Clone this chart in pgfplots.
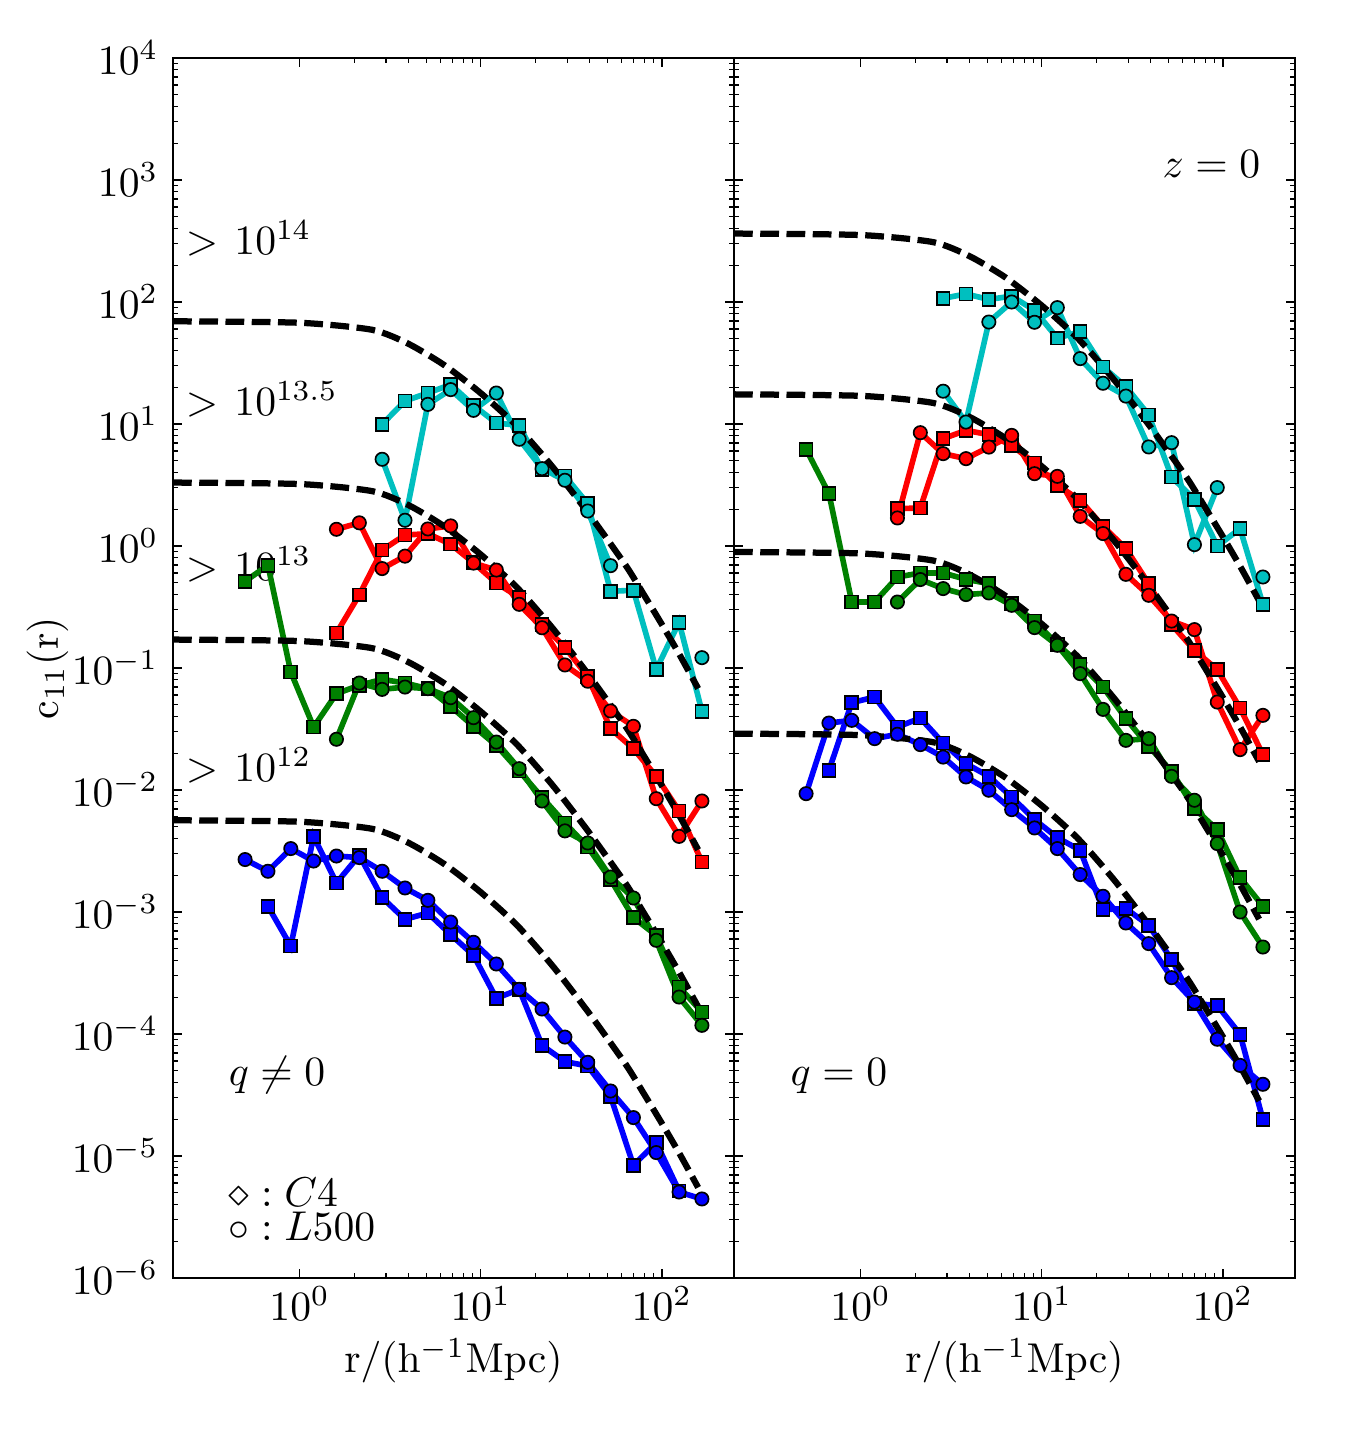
\documentclass[border=0pt]{standalone}
\usepackage{pgfplots}
\pgfplotsset{compat=1.18}
\definecolor{mcyan}{RGB}{0,191,191}
\definecolor{mgreen}{RGB}{0,128,0}
\definecolor{mblue}{RGB}{0,0,255}
\definecolor{mred}{RGB}{255,0,0}
\pgfplotsset{
 mypanel/.style={
  scale only axis, width=134.64pt, height=292.8pt,
  xmin=0.2, xmax=250, ymin=1e-6, ymax=1e4,
  ytickten={-6,...,4}, xtickten={0,1,2},
  major tick length=2.1pt, minor tick length=1.1pt,
  every tick/.style={black, line width=0.3pt},
  axis line style={line width=0.55pt},
  tick label style={font=\fontsize{10}{12}\selectfont},
  xticklabel style={yshift=1.5pt},
  label style={font=\fontsize{10}{12}\selectfont},
  xlabel={$\mathrm{r/(h^{-1}Mpc)}$},
  xlabel shift=-2.5pt,
  ylabel shift=-6pt,
 },
 sq/.style={color=#1, line width=1.35pt, mark=square*, mark size=1.55pt, mark options={solid, draw=black, line width=0.4pt, fill=#1}},
 ci/.style={color=#1, line width=1.35pt, mark=*, mark size=1.6pt, mark options={solid, draw=black, line width=0.4pt, fill=#1}},
 cim/.style={color=#1, only marks, mark=*, mark size=1.6pt, mark options={solid, draw=black, line width=0.4pt, fill=#1}},
 dsh/.style={black, line width=1.5pt, dash pattern=on 4.5pt off 1.8pt, smooth, tension=0.4, no marks},
}
\begin{document}
\begin{tikzpicture}
\useasboundingbox (0,0) rectangle (324pt,349.2pt);
% ---------------- left panel: q != 0 ----------------
\begin{loglogaxis}[mypanel, at={(41.52pt,42.48pt)}, anchor=south west, ylabel={$\mathrm{c_{11}(r)}$}]
\node[anchor=base west, inner sep=0] at (rel axis cs:0.0214,0.839) {$>\mskip2mu 10^{14}$};
\node[anchor=base west, inner sep=0] at (rel axis cs:0.0214,0.707) {$>\mskip2mu 10^{13.5}$};
\node[anchor=base west, inner sep=0] at (rel axis cs:0.0214,0.572) {$>\mskip2mu 10^{13}$};
\node[anchor=base west, inner sep=0] at (rel axis cs:0.0214,0.407) {$>\mskip2mu 10^{12}$};
\node[anchor=base west, inner sep=0] at (rel axis cs:0.098,0.158) {$q\neq 0$};
\node[anchor=north west, inner sep=0, align=left, font=\fontsize{10}{8.3}\selectfont] at (rel axis cs:0.098,0.083) {$\diamond : C4$\\$\circ : L500$};
% blue
\addplot[sq=mblue] coordinates {(0.6687,1.114e-3)(0.8937,5.260e-4)(1.195,4.169e-3)(1.597,1.730e-3)(2.136,2.917e-3)(2.855,1.312e-3)(3.817,8.710e-4)(5.104,9.817e-4)(6.823,6.531e-4)(9.120,4.416e-4)(12.19,1.963e-4)(16.30,2.323e-4)(21.79,8.072e-5)(29.14,5.943e-5)(38.95,5.470e-5)(52.08,3.083e-5)(69.62,8.395e-6)(93.07,1.288e-5)(124.4,5.164e-6)};
\addplot[ci=mblue] coordinates {(0.500,2.692e-3)(0.6687,2.158e-3)(0.8937,3.311e-3)(1.195,2.618e-3)(1.597,2.877e-3)(2.136,2.793e-3)(2.855,2.158e-3)(3.817,1.574e-3)(5.104,1.247e-3)(6.823,8.279e-4)(9.120,5.649e-4)(12.19,3.750e-4)(16.30,2.323e-4)(21.79,1.603e-4)(29.14,9.441e-5)(38.95,5.861e-5)(52.08,3.412e-5)(69.62,2.065e-5)(93.07,1.067e-5)(124.4,5.070e-6)(166.3,4.446e-6)};
% green
\addplot[sq=mgreen] coordinates {(0.500,0.5140)(0.6687,0.6950)(0.8937,0.09268)(1.195,0.03281)(1.597,0.06166)(2.136,0.07211)(2.855,0.08072)(3.817,0.07534)(5.104,0.06776)(6.823,0.04853)(9.120,0.03327)(12.19,0.02323)(16.30,0.01432)(21.79,8.710e-3)(29.14,5.370e-3)(38.95,3.412e-3)(52.08,1.845e-3)(69.62,8.995e-4)(93.07,6.442e-4)(124.4,2.427e-4)(166.3,1.514e-4)};
\addplot[ci=mgreen] coordinates {(1.597,0.02606)(2.136,0.07534)(2.855,0.06683)(3.817,0.06982)(5.104,0.06776)(6.823,0.05715)(9.120,0.03917)(12.19,0.02472)(16.30,0.01496)(21.79,8.128e-3)(29.14,4.624e-3)(38.95,3.681e-3)(52.08,1.936e-3)(69.62,1.303e-3)(93.07,5.861e-4)(124.4,2.009e-4)(166.3,1.178e-4)};
% red
\addplot[sq=mred] coordinates {(1.597,0.1936)(2.136,0.3981)(2.855,0.9268)(3.817,1.230)(5.104,1.262)(6.823,1.035)(9.120,0.7295)(12.19,0.4977)(16.30,0.3784)(21.79,0.2275)(29.14,0.1479)(38.95,0.08511)(52.08,0.03184)(69.62,0.02183)(93.07,0.01294)(124.4,6.730e-3)(166.3,2.570e-3)};
\addplot[ci=mred] coordinates {(1.597,1.371)(2.136,1.549)(2.855,0.6531)(3.817,0.8260)(5.104,1.380)(6.823,1.462)(9.120,0.7244)(12.19,0.6353)(16.30,0.3327)(21.79,0.2138)(29.14,0.1059)(38.95,0.07798)(52.08,0.04446)(69.62,0.03327)(93.07,8.492e-3)(124.4,4.169e-3)(166.3,8.128e-3)};
% cyan
\addplot[sq=mcyan] coordinates {(2.855,9.954)(3.817,15.45)(5.104,17.95)(6.823,21.04)(9.120,14.22)(12.19,10.19)(16.30,9.750)(21.79,4.227)(29.14,3.750)(38.95,2.223)(52.08,0.4256)(69.62,0.4335)(93.07,0.09727)(124.4,0.2371)(166.3,0.04416)};
\addplot[ci=mcyan] coordinates {(2.855,5.140)(3.817,1.626)(5.104,14.49)(6.823,19.14)(9.120,12.94)(12.19,17.95)(16.30,7.499)(21.79,4.305)(29.14,3.459)(38.95,1.936)(52.08,0.6902)};
\addplot[cim=mcyan] coordinates {(166.3,0.1216)};
% dashed model curves
\addplot[dsh] coordinates {(0.2,69.5)(1,67.6)(2.512,59.2)(3.981,45.5)(6.310,30.3)(10,17.9)(15.85,9.59)(25.12,4.385)(39.81,1.807)(63.10,0.695)(79.43,0.400)(100,0.2275)(125.9,0.1265)(158.5,0.0679)};
\addplot[dsh] coordinates {(0.2,3.311)(1,3.221)(2.512,2.818)(3.981,2.168)(6.310,1.445)(10,0.851)(15.85,0.457)(25.12,0.209)(39.81,0.0861)(63.10,0.0331)(79.43,0.0191)(100,0.01084)(125.9,0.00603)(158.5,0.00324)};
\addplot[dsh] coordinates {(0.2,0.1710)(1,0.1663)(2.512,0.1455)(3.981,0.1119)(6.310,0.07464)(10,0.04395)(15.85,0.02360)(25.12,0.01079)(39.81,0.004446)(63.10,0.001710)(79.43,0.000984)(100,0.0005598)(125.9,0.0003112)(158.5,0.0001671)};
\addplot[dsh] coordinates {(0.2,5.649e-3)(1,5.495e-3)(2.512,4.808e-3)(3.981,3.698e-3)(6.310,2.466e-3)(10,1.452e-3)(15.85,7.798e-4)(25.12,3.565e-4)(39.81,1.469e-4)(63.10,5.649e-5)(79.43,3.251e-5)(100,1.849e-5)(125.9,1.028e-5)(158.5,5.521e-6)};
\end{loglogaxis}
% ---------------- right panel: q = 0 ----------------
\begin{loglogaxis}[mypanel, at={(176.16pt,42.48pt)}, anchor=south west, yticklabels={}]
\node[anchor=base west, inner sep=0] at (rel axis cs:0.0996,0.158) {$q=0$};
\node[anchor=base east, inner sep=0] at (rel axis cs:0.9395,0.902) {$z=0$};
% blue
\addplot[sq=mblue] coordinates {(0.6687,0.01449)(0.8937,0.05200)(1.195,0.05781)(1.597,0.03281)(2.136,0.03890)(2.855,0.02427)(3.817,0.01644)(5.104,0.01294)(6.823,8.770e-3)(9.120,5.715e-3)(12.19,4.074e-3)(16.30,3.206e-3)(21.79,1.047e-3)(29.14,1.067e-3)(38.95,7.780e-4)(52.08,4.074e-4)(69.62,1.774e-4)(93.07,1.718e-4)(124.4,9.954e-5)(166.3,1.986e-5)};
\addplot[ci=mblue] coordinates {(0.500,9.333e-3)(0.6687,0.03540)(0.8937,0.03724)(1.195,0.02636)(1.597,0.02864)(2.136,0.02355)(2.855,0.01862)(3.817,0.01279)(5.104,9.954e-3)(6.823,6.902e-3)(9.120,4.887e-3)(12.19,3.311e-3)(16.30,2.028e-3)(21.79,1.346e-3)(29.14,8.128e-4)(38.95,5.508e-4)(52.08,2.897e-4)(69.62,1.828e-4)(93.07,9.057e-5)(124.4,5.534e-5)(166.3,3.873e-5)};
% green
\addplot[sq=mgreen] coordinates {(0.500,6.209)(0.6687,2.685)(0.8937,0.3475)(1.195,0.3475)(1.597,0.5572)(2.136,0.6012)(2.855,0.6012)(3.817,0.5333)(5.104,0.4920)(6.823,0.3373)(9.120,0.2427)(12.19,0.1563)(16.30,0.1072)(21.79,0.06982)(29.14,0.03846)(38.95,0.02280)(52.08,0.01422)(69.62,7.031e-3)(93.07,4.732e-3)(124.4,1.914e-3)(166.3,1.114e-3)};
\addplot[ci=mgreen] coordinates {(1.597,0.3475)(2.136,0.5309)(2.855,0.4477)(3.817,0.3999)(5.104,0.4121)(6.823,0.3266)(9.120,0.2143)(12.19,0.1535)(16.30,0.08995)(21.79,0.04581)(29.14,0.02553)(38.95,0.02636)(52.08,0.01294)(69.62,8.241e-3)(93.07,3.639e-3)(124.4,1.0e-3)(166.3,5.164e-4)};
% red
\addplot[sq=mred] coordinates {(1.597,2.023)(2.136,2.051)(2.855,7.586)(3.817,8.872)(5.104,8.185)(6.823,6.683)(9.120,4.786)(12.19,3.148)(16.30,2.371)(21.79,1.449)(29.14,0.9528)(38.95,0.4920)(52.08,0.2270)(69.62,0.1396)(93.07,0.09705)(124.4,0.04699)(166.3,0.01950)};
\addplot[ci=mred] coordinates {(1.597,1.698)(2.136,8.492)(2.855,5.715)(3.817,5.200)(5.104,6.471)(6.823,8.072)(9.120,3.917)(12.19,3.724)(16.30,1.750)(21.79,1.265)(29.14,0.5861)(38.95,0.3945)(52.08,0.2427)(69.62,0.2065)(93.07,0.05260)(124.4,0.02143)(166.3,0.04093)};
% cyan
\addplot[sq=mcyan] coordinates {(2.855,107.2)(3.817,116.4)(5.104,105.0)(6.823,111.7)(9.120,85.51)(12.19,50.58)(16.30,57.15)(21.79,29.31)(29.14,20.23)(38.95,11.86)(52.08,3.681)(69.62,2.410)(93.07,1.000)(124.4,1.387)(166.3,0.3327)};
\addplot[ci=mcyan] coordinates {(2.855,18.58)(3.817,10.38)(5.104,68.55)(6.823,100.0)(9.120,68.23)(12.19,89.95)(16.30,34.36)(21.79,21.58)(29.14,16.94)(38.95,6.486)(52.08,7.031)(69.62,1.026)(93.07,3.013)};
\addplot[cim=mcyan] coordinates {(166.3,0.5572)};
% dashed model curves
\addplot[dsh] coordinates {(0.2,363.9)(1,354.0)(2.512,309.7)(3.981,238.2)(6.310,158.9)(10,93.5)(15.85,50.2)(25.12,22.96)(39.81,9.462)(63.10,3.639)(79.43,2.094)(100,1.191)(125.9,0.6622)(158.5,0.3556)};
\addplot[dsh] coordinates {(0.2,17.50)(1,17.02)(2.512,14.89)(3.981,11.46)(6.310,7.638)(10,4.498)(15.85,2.415)(25.12,1.104)(39.81,0.4550)(63.10,0.1750)(79.43,0.1007)(100,0.05728)(125.9,0.03184)(158.5,0.01710)};
\addplot[dsh] coordinates {(0.2,0.8933)(1,0.8690)(2.512,0.7603)(3.981,0.5848)(6.310,0.3899)(10,0.2296)(15.85,0.1233)(25.12,0.05636)(39.81,0.02323)(63.10,0.008933)(79.43,0.005140)(100,0.002924)(125.9,0.001626)(158.5,0.0008730)};
\addplot[dsh] coordinates {(0.2,0.02897)(1,0.02818)(2.512,0.02466)(3.981,0.01897)(6.310,0.01265)(10,7.447e-3)(15.85,3.999e-3)(25.12,1.828e-3)(39.81,7.534e-4)(63.10,2.897e-4)(79.43,1.667e-4)(100,9.484e-5)(125.9,5.272e-5)(158.5,2.831e-5)};
\end{loglogaxis}
\end{tikzpicture}
\end{document}
